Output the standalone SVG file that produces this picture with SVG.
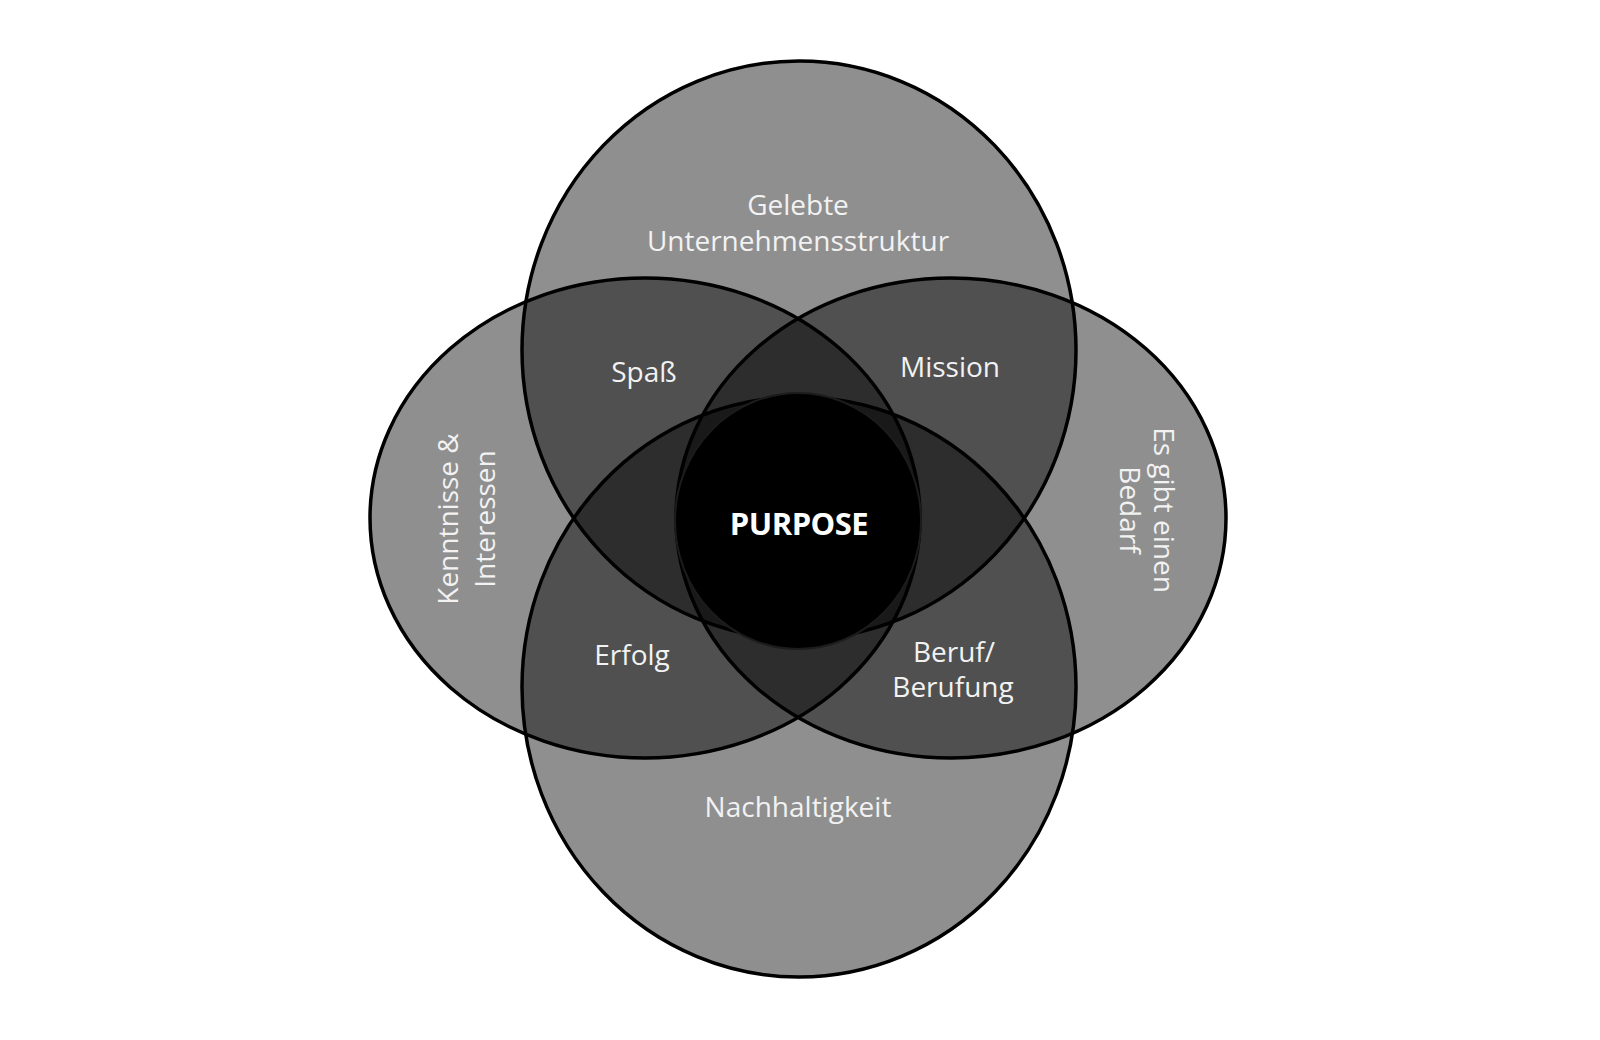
<svg xmlns="http://www.w3.org/2000/svg" width="1600" height="1040" viewBox="0 0 1600 1040">
  <style>
    .set { fill: #000; fill-opacity: 0.44; stroke: #000; stroke-width: 3.5; }
    .lbl { font-family: "Open Sans", "Liberation Sans", sans-serif; font-size: 28px; font-weight: 400; fill: #f2f2f2; text-anchor: middle; }
    .core { font-family: "Open Sans", "Liberation Sans", sans-serif; font-size: 31px; font-weight: 700; fill: #ffffff; text-anchor: middle; letter-spacing: -0.5px; }
  </style>
  <rect x="0" y="0" width="1600" height="1040" fill="#ffffff"/>
  <g id="shapes">
    <g id="top"><ellipse class="set" cx="799" cy="350" rx="277" ry="289"/></g>
    <g id="bottom"><ellipse class="set" cx="799" cy="687" rx="277" ry="290"/></g>
    <g id="left"><ellipse class="set" cx="645" cy="518" rx="275" ry="240"/></g>
    <g id="right"><ellipse class="set" cx="951" cy="518" rx="275" ry="240"/></g>
    <g id="purpose-circle"><ellipse cx="798" cy="521" rx="123" ry="128" fill="#000" stroke="#1c1c1c" stroke-width="2"/></g>
  </g>
  <g id="connectors"/>
  <g id="labels">
    <g id="label-top"><text class="lbl" x="798" y="215">Gelebte</text><text class="lbl" x="798" y="251">Unternehmensstruktur</text></g>
    <g id="label-spass"><text class="lbl" x="644" y="382">Spaß</text></g>
    <g id="label-mission"><text class="lbl" x="950" y="377">Mission</text></g>
    <g id="label-left"><text class="lbl" transform="translate(458,519) rotate(-90)"><tspan x="0" y="0">Kenntnisse &amp;</tspan><tspan x="0" y="37">Interessen</tspan></text></g>
    <g id="label-right"><text class="lbl" transform="translate(1154,510) rotate(90)"><tspan x="0" y="0">Es gibt einen</tspan><tspan x="0" y="34">Bedarf</tspan></text></g>
    <g id="label-purpose"><text class="core" x="799" y="535">PURPOSE</text></g>
    <g id="label-erfolg"><text class="lbl" x="632" y="665">Erfolg</text></g>
    <g id="label-beruf"><text class="lbl" x="954" y="662">Beruf/</text><text class="lbl" x="953" y="697">Berufung</text></g>
    <g id="label-bottom"><text class="lbl" x="798" y="817">Nachhaltigkeit</text></g>
  </g>
</svg>
